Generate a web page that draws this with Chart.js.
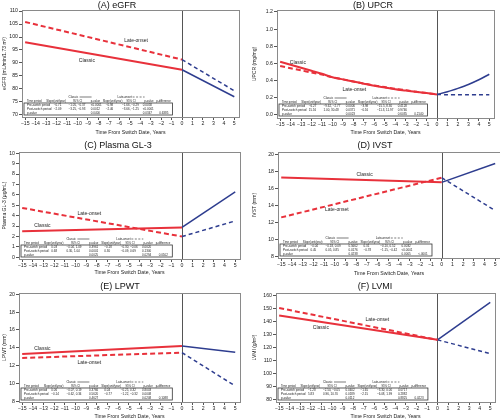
<!DOCTYPE html>
<html><head><meta charset="utf-8">
<script src="https://cdn.jsdelivr.net/npm/chart.js@4.4.1/dist/chart.umd.min.js"></script>
<style>
html,body{margin:0;padding:0;background:#fff;}
#wrap{position:relative;width:500px;height:420px;overflow:hidden;background:#fff;}
canvas{position:absolute;}
</style></head><body><div id="wrap">
<canvas id="cA" width="250" height="140" style="left:0;top:0"></canvas>
<canvas id="cB" width="250" height="140" style="left:250px;top:0"></canvas>
<canvas id="cC" width="250" height="140" style="left:0;top:140px"></canvas>
<canvas id="cD" width="250" height="140" style="left:250px;top:140px"></canvas>
<canvas id="cE" width="250" height="140" style="left:0;top:280px"></canvas>
<canvas id="cF" width="250" height="140" style="left:250px;top:280px"></canvas>
</div>
<script>
// ---------- data ----------
const xTickValues = [-15,-14,-13,-12,-11,-10,-9,-8,-7,-6,-5,-4,-3,-2,-1,0,1,2,3,4,5];
const preYears = [-15, 0];
const postYears = [0, 5];
const upcrPreYears = [-15,-14,-13,-12,-11,-10,-9,-8,-7,-6,-5,-4,-3,-2,-1,0];
const upcrPostYears = [0,1,2,3,4,5];

const egfrClassicPre = [98.0, 87.4];
const egfrClassicPost = [87.4, 77.0];
const egfrLatePre = [105.8, 91.3];
const egfrLatePost = [91.3, 79.3];
const egfrTicks = [70,75,80,85,90,95,100,105,110];

const upcrClassicPre = [0.62,0.585,0.55,0.515,0.48,0.44,0.415,0.39,0.365,0.34,0.32,0.30,0.285,0.27,0.255,0.24];
const upcrLatePre = [0.57,0.545,0.52,0.495,0.47,0.44,0.415,0.39,0.365,0.345,0.325,0.305,0.29,0.27,0.255,0.24];
const upcrClassicPost = [0.24,0.27,0.31,0.355,0.41,0.475];
const upcrLatePost = [0.24,0.235,0.235,0.235,0.235,0.235];
const upcrTicks = [0,0.1,0.2,0.3,0.4,0.5,0.6,0.7,0.8,0.9,1.0,1.1,1.2];

const gl3ClassicPre = [2.5, 2.86];
const gl3ClassicPost = [2.86, 6.28];
const gl3LatePre = [4.74, 1.99];
const gl3LatePost = [1.99, 3.49];
const gl3Ticks = [0,1,2,3,4,5,6,7,8,9,10];

const ivstClassicPre = [17.28, 16.7];
const ivstClassicPost = [16.7, 18.9];
const ivstLatePre = [12.6, 17.24];
const ivstLatePost = [17.24, 13.4];
const ivstTicks = [8,9,10,11,12,13,14,15,16,17,18,19,20];

const lpwtClassicPre = [13.3, 14.2];
const lpwtClassicPost = [14.2, 13.5];
const lpwtLatePre = [12.85, 13.45];
const lpwtLatePost = [13.45, 9.7];
const lpwtTicks = [8,9,10,11,12,13,14,15,16,17,18,19,20];

const lvmiClassicPre = [144.6, 125.8];
const lvmiClassicPost = [125.8, 154.8];
const lvmiLatePre = [150.4, 125.8];
const lvmiLatePost = [125.8, 115.2];
const lvmiTicks = [80,90,100,110,120,130,140,150,160];

const tableHeader = ['Time period','Slope(unit/year)','95% CI','p-value','Slope(unit/year)','95% CI','p-value','p-difference'];
const tableRowNames = ['Pre-switch period','Post-switch period','p-value'];
const egfrTable = [['−0.71','−1.05, −0.37','<0.0001','−0.98','−1.66, −0.29','0.0058',''],['−2.09','−3.25, −0.93','0.0012','−2.46','−3.66, −1.25','<0.0001',''],['','','0.0400','','','0.0347','0.6385']];
const upcrTable = [['−6.27','−9.62, −2.77','0.0006','−3.98','−15.5, 8.30','0.4128',''],['15.16','1.00, 30.48','0.0371','−0.16','−11.3, 11.97','0.9746',''],['','','0.0023','','','0.6035','0.2140']];
const gl3Table = [['0.03','−0.04, 1.09','0.3961','−0.18','−0.30, −0.06','0.0020',''],['0.68','0.30, 1.04','0.0001','0.30','−0.09, 0.69','0.1300',''],['','','0.0025','','','0.0294','0.0502']];
const ivstTable = [['−0.04','−0.18, 0.09','0.5662','0.31','−0.10, 0.52','0.0032',''],['0.45','0.05, 0.85','0.0176','−0.78','−1.15, −0.42','<0.0001',''],['','','0.0238','','','0.0005','<.0001']];
const lpwtTable = [['0.06','−0.07, 0.19','0.3766','0.04','−0.25, 0.32','0.8003',''],['−0.14','−0.62, 0.34','0.5620','−0.77','−1.22, −0.32','0.0008',''],['','','0.4627','','','0.0208','0.1088']];
const lvmiTable = [['−1.28','−2.50, −0.05','0.0402','−1.65','−3.30, 0.00','0.0717',''],['5.83','0.96, 10.70','0.0189','−2.15','−6.08, 1.99','0.2882',''],['','','0.0112','','','0.8825','0.0223']];

// ---------- styling ----------
const RED = '#e8313b';
const BLUE = '#2e3d8f';
const FONT = 'Arial, "Liberation Sans", Helvetica, sans-serif';
Chart.defaults.font.family = FONT;
Chart.defaults.color = '#222';

function pts(xs, ys){ return xs.map((x,i)=>({x:x, y:ys[i]})); }
function fmtMinus(v){ return v < 0 ? '\u2212' + Math.abs(v) : String(v); }

const panelPlugin = {
  id: 'panelDecor',
  beforeDatasetsDraw(chart){
    const {ctx, chartArea:ca, scales:{x}} = chart;
    const x0 = Math.round(x.getPixelForValue(0)) + 0.5;
    ctx.save();
    ctx.strokeStyle = '#555'; ctx.lineWidth = 1;
    ctx.beginPath(); ctx.moveTo(x0, ca.top); ctx.lineTo(x0, ca.bottom); ctx.stroke();
    ctx.restore();
  },
  afterDatasetsDraw(chart){
    const spec = chart.options.plugins.panelDecor;
    const {ctx, chartArea:ca, scales:{x, y}} = chart;
    ctx.save();
    ctx.strokeStyle = '#8a8a8a'; ctx.lineWidth = 1;
    ctx.strokeRect(Math.round(ca.left)+0.5, Math.round(ca.top)+0.5, Math.round(ca.right-ca.left), Math.round(ca.bottom-ca.top));
    ctx.fillStyle = '#111';
    ctx.font = '9px ' + FONT;
    ctx.textAlign = 'center'; ctx.textBaseline = 'middle';
    ctx.fillText(spec.title, spec.titleX, spec.titleY);
    ctx.font = '5px ' + FONT;
    ctx.fillStyle = '#222';
    spec.labels.forEach(l => ctx.fillText(l.text, x.getPixelForValue(l.x), y.getPixelForValue(l.y)));
    // table
    const left = ca.left + 2, right = x.getPixelForValue(-1) + 1;
    const bottom = ca.bottom - 2, h = 12, top = bottom - h, w = right - left;
    ctx.strokeStyle = '#333'; ctx.lineWidth = 0.8;
    ctx.strokeRect(left, top, w, h);
    ctx.fillStyle = '#222';
    ctx.font = '3px ' + FONT;
    ctx.textAlign = 'left'; ctx.textBaseline = 'middle';
    const ly = top - 6;
    ctx.fillText('Classic', left + 0.30*w, ly);
    ctx.lineWidth = 0.6; ctx.strokeStyle = '#222';
    ctx.beginPath(); ctx.moveTo(left+0.30*w+11, ly); ctx.lineTo(left+0.30*w+23, ly); ctx.stroke();
    ctx.fillText('Late-onset', left + 0.63*w, ly);
    ctx.setLineDash([2,1.5]);
    ctx.beginPath(); ctx.moveTo(left+0.63*w+15, ly); ctx.lineTo(left+0.63*w+27, ly); ctx.stroke();
    ctx.setLineDash([]);
    const hcols = [0.02, 0.15, 0.33, 0.45, 0.53, 0.69, 0.81, 0.89];
    ctx.font = '2.8px ' + FONT;
    tableHeader.forEach((t,i) => ctx.fillText(t, left + hcols[i]*w, top - 2));
    const vcols = [0.20, 0.30, 0.45, 0.55, 0.66, 0.80, 0.91];
    ctx.font = '3px ' + FONT;
    for (let r = 0; r < 3; r++){
      const ry = top + 2.2 + r*3.8;
      ctx.fillText(tableRowNames[r], left + 0.02*w, ry);
      spec.table[r].forEach((t,i) => { if (t) ctx.fillText(t, left + vcols[i]*w, ry); });
    }
    ctx.restore();
  }
};

function buildPanel(id, spec){
  const L = spec.layout;
  new Chart(document.getElementById(id), {
    type: 'line',
    data: { datasets: [
      { data: pts(spec.preX, spec.latePre), borderColor: RED, borderWidth: 2, borderDash: [5,3], pointRadius: 0, tension: spec.tension, fill: false },
      { data: pts(spec.preX, spec.classicPre), borderColor: RED, borderWidth: 2, pointRadius: 0, tension: spec.tension, fill: false },
      { data: pts(spec.postX, spec.latePost), borderColor: BLUE, borderWidth: 1.5, borderDash: [4,3], pointRadius: 0, tension: spec.tension, fill: false },
      { data: pts(spec.postX, spec.classicPost), borderColor: BLUE, borderWidth: 1.5, pointRadius: 0, tension: spec.tension, fill: false }
    ]},
    options: {
      responsive: false, animation: false, devicePixelRatio: 1,
      layout: { padding: { left: 0, right: L.padR, top: L.padT, bottom: L.padB } },
      plugins: { legend: { display: false }, tooltip: { enabled: false }, title: { display: false },
        panelDecor: { title: spec.title, titleX: L.titleX, titleY: L.titleY, labels: spec.labels, table: spec.table } },
      scales: {
        x: {
          type: 'linear', min: -15.3, max: 5.45,
          afterBuildTicks: s => { s.ticks = xTickValues.map(v => ({ value: v })); },
          afterFit: s => { s.height = L.xh; },
          ticks: { autoSkip: false, maxRotation: 0, minRotation: 0, padding: 0.5, font: { size: 5.2 }, color: '#222', callback: v => fmtMinus(v) },
          grid: { drawOnChartArea: false, drawTicks: true, tickLength: 3, color: '#555' },
          border: { display: false },
          title: { display: true, text: 'Time From Switch Date, Years', font: { size: 5.2 }, color: '#222', padding: 0 }
        },
        y: {
          type: 'linear', min: spec.yMin, max: spec.yMax,
          afterBuildTicks: s => { s.ticks = spec.yTicks.map(v => ({ value: v })); },
          afterFit: s => { s.width = L.yw; },
          ticks: { padding: 1, font: { size: 5.2 }, color: '#222', callback: spec.yFmt },
          grid: { drawOnChartArea: false, drawTicks: true, tickLength: 3, color: '#555' },
          border: { display: false },
          title: { display: true, text: spec.yTitle, font: { size: 5 }, color: '#222', padding: { top: 1.5, bottom: 0 } }
        }
      }
    },
    plugins: [panelPlugin]
  });
}

const intFmt = v => String(v);

buildPanel('cA', { title: '(A) eGFR', yTitle: 'eGFR (mL/min/1.73 m²)', yMin: 69.2, yMax: 110.4, yTicks: egfrTicks, yFmt: intFmt,
  preX: preYears, postX: postYears, classicPre: egfrClassicPre, classicPost: egfrClassicPost, latePre: egfrLatePre, latePost: egfrLatePost, tension: 0,
  labels: [{text:'Late-onset', x:-4.4, y:98.8},{text:'Classic', x:-9.1, y:90.8}], table: egfrTable,
  layout: { yw: 22, padR: 11, padT: 10, xh: 19, padB: 4, titleX: 117, titleY: 5.5 } });

buildPanel('cB', { title: '(B) UPCR', yTitle: 'UPCR (mg/mg)', yMin: -0.035, yMax: 1.223, yTicks: upcrTicks, yFmt: v => v.toFixed(1),
  preX: upcrPreYears, postX: upcrPostYears, classicPre: upcrClassicPre, classicPost: upcrClassicPost, latePre: upcrLatePre, latePost: upcrLatePost, tension: 0.3,
  labels: [{text:'Classic', x:-13.3, y:0.605},{text:'Late-onset', x:-7.9, y:0.295}], table: upcrTable,
  layout: { yw: 27, padR: 6, padT: 10, xh: 18, padB: 4, titleX: 123, titleY: 5.5 } });

buildPanel('cC', { title: '(C) Plasma GL-3', yTitle: 'Plasma GL-3 (μg/mL)', yMin: -0.17, yMax: 10.12, yTicks: gl3Ticks, yFmt: intFmt,
  preX: preYears, postX: postYears, classicPre: gl3ClassicPre, classicPost: gl3ClassicPost, latePre: gl3LatePre, latePost: gl3LatePost, tension: 0,
  labels: [{text:'Late-onset', x:-8.7, y:4.2},{text:'Classic', x:-13.1, y:3.0}], table: gl3Table,
  layout: { yw: 19, padR: 10, padT: 12, xh: 17, padB: 4, titleX: 118, titleY: 5.5 } });

buildPanel('cD', { title: '(D) IVST', yTitle: 'IVST (mm)', yMin: 7.85, yMax: 20.25, yTicks: ivstTicks, yFmt: intFmt,
  preX: preYears, postX: postYears, classicPre: ivstClassicPre, classicPost: ivstClassicPost, latePre: ivstLatePre, latePost: ivstLatePost, tension: 0,
  labels: [{text:'Classic', x:-7.2, y:17.55},{text:'Late-onset', x:-9.8, y:13.55}], table: ivstTable,
  layout: { yw: 28, padR: 0, padT: 12, xh: 19, padB: 3, titleX: 125, titleY: 5.5 } });

buildPanel('cE', { title: '(E) LPWT', yTitle: 'LPWT (mm)', yMin: 7.9, yMax: 20.15, yTicks: lpwtTicks, yFmt: intFmt,
  preX: preYears, postX: postYears, classicPre: lpwtClassicPre, classicPost: lpwtClassicPost, latePre: lpwtLatePre, latePost: lpwtLatePost, tension: 0,
  labels: [{text:'Classic', x:-13.1, y:13.87},{text:'Late-onset', x:-8.7, y:12.38}], table: lpwtTable,
  layout: { yw: 19, padR: 10, padT: 13, xh: 18, padB: 0, titleX: 120, titleY: 7 } });

buildPanel('cF', { title: '(F) LVMI', yTitle: 'LVMI (g/m²)', yMin: 77.8, yMax: 162, yTicks: lvmiTicks, yFmt: intFmt,
  preX: preYears, postX: postYears, classicPre: lvmiClassicPre, classicPost: lvmiClassicPost, latePre: lvmiLatePre, latePost: lvmiLatePost, tension: 0,
  labels: [{text:'Late-onset', x:-5.7, y:141.5},{text:'Classic', x:-11.05, y:135.3}], table: lvmiTable,
  layout: { yw: 26, padR: 5, padT: 13, xh: 18, padB: 0, titleX: 125, titleY: 7 } });
</script></body></html>
